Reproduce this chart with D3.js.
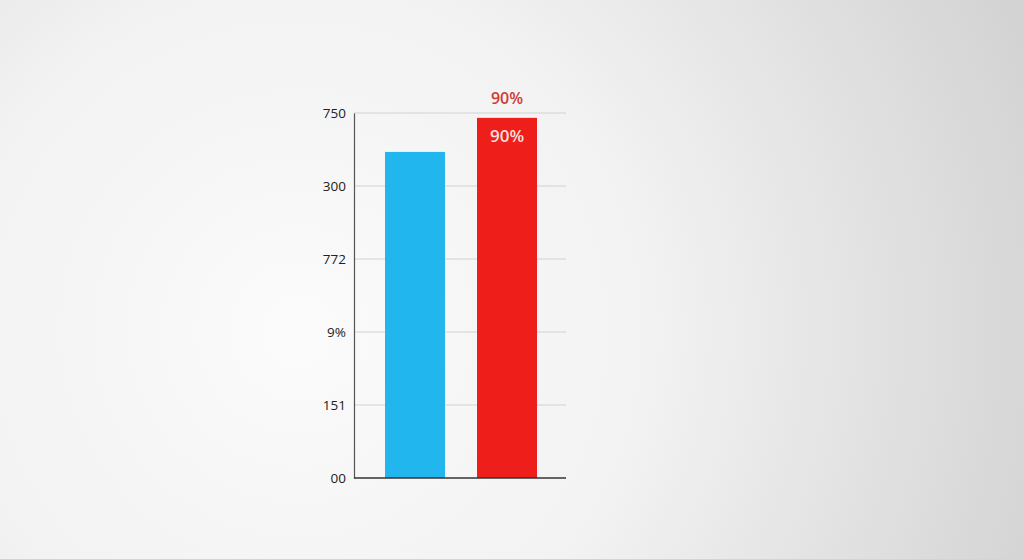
<!DOCTYPE html>
<html><head><meta charset="utf-8">
<script src="https://cdn.jsdelivr.net/npm/d3@7"></script>
<style>html,body{margin:0;padding:0;overflow:hidden;}svg{display:block;}</style>
</head><body>
<script>
const categories = ["A", "B"];
const values = [670, 740];
const barColors = ["#22b6ef", "#ee1f1b"];
const tickValues = [0, 150, 300, 450, 600, 750];
const tickLabels = ["00", "151", "9%", "772", "300", "750"];
const topLabel = "90%";
const innerLabel = "90%";

const W = 1024, H = 559;
const svg = d3.select("body").append("svg").attr("width", W).attr("height", H);
const defs = svg.append("defs");
const g = defs.append("radialGradient").attr("id", "bg")
  .attr("gradientUnits", "userSpaceOnUse").attr("cx", 300).attr("cy", 330).attr("r", 780);
g.append("stop").attr("offset", "0").attr("stop-color", "#fbfbfb");
g.append("stop").attr("offset", "0.45").attr("stop-color", "#f2f2f2");
g.append("stop").attr("offset", "1").attr("stop-color", "#d3d3d3");
svg.append("rect").attr("width", W).attr("height", H).attr("fill", "url(#bg)");

const x0 = 354, x1 = 566, yTop = 113, yBot = 478;
const y = d3.scaleLinear().domain([0, 750]).range([yBot, yTop]);
const x = d3.scaleBand().domain(categories).range([385, 537]).paddingInner(0.348).paddingOuter(0);

// gridlines
svg.append("g").selectAll("line").data(tickValues.filter(d => d > 0)).join("line")
  .attr("x1", x0).attr("x2", x1).attr("y1", d => y(d)).attr("y2", d => y(d))
  .attr("stroke", "#d2d2d2").attr("stroke-width", 1);

// y axis
const yAxis = d3.axisLeft(y).tickValues(tickValues).tickSize(0).tickPadding(8)
  .tickFormat((d, i) => tickLabels[i]);
const ya = svg.append("g").attr("transform", `translate(${x0},0)`).call(yAxis);
ya.select(".domain").attr("stroke", "#555").attr("stroke-width", 1.2);
ya.selectAll("text").attr("font-family", "Open Sans, sans-serif").attr("font-size", 13.5)
  .attr("fill", "#222");

// bars
svg.append("g").selectAll("rect").data(values).join("rect")
  .attr("x", (d, i) => x(categories[i])).attr("width", x.bandwidth())
  .attr("y", d => y(d)).attr("height", d => yBot - y(d))
  .attr("fill", (d, i) => barColors[i]);

// bottom axis
svg.append("line").attr("x1", x0).attr("x2", x1).attr("y1", yBot).attr("y2", yBot)
  .attr("stroke", "#333").attr("stroke-width", 1.6);

// labels
const cx = x(categories[1]) + x.bandwidth() / 2;
svg.append("text").attr("x", cx).attr("y", 104).attr("text-anchor", "middle")
  .attr("font-family", "Open Sans, sans-serif").attr("font-size", 16).attr("font-weight", 600)
  .attr("fill", "#cf3a33").text(topLabel);
svg.append("text").attr("x", cx).attr("y", 142).attr("text-anchor", "middle")
  .attr("font-family", "Open Sans, sans-serif").attr("font-size", 17).attr("font-weight", 600)
  .attr("fill", "#f7dede").text(innerLabel);
</script>
</body></html>
